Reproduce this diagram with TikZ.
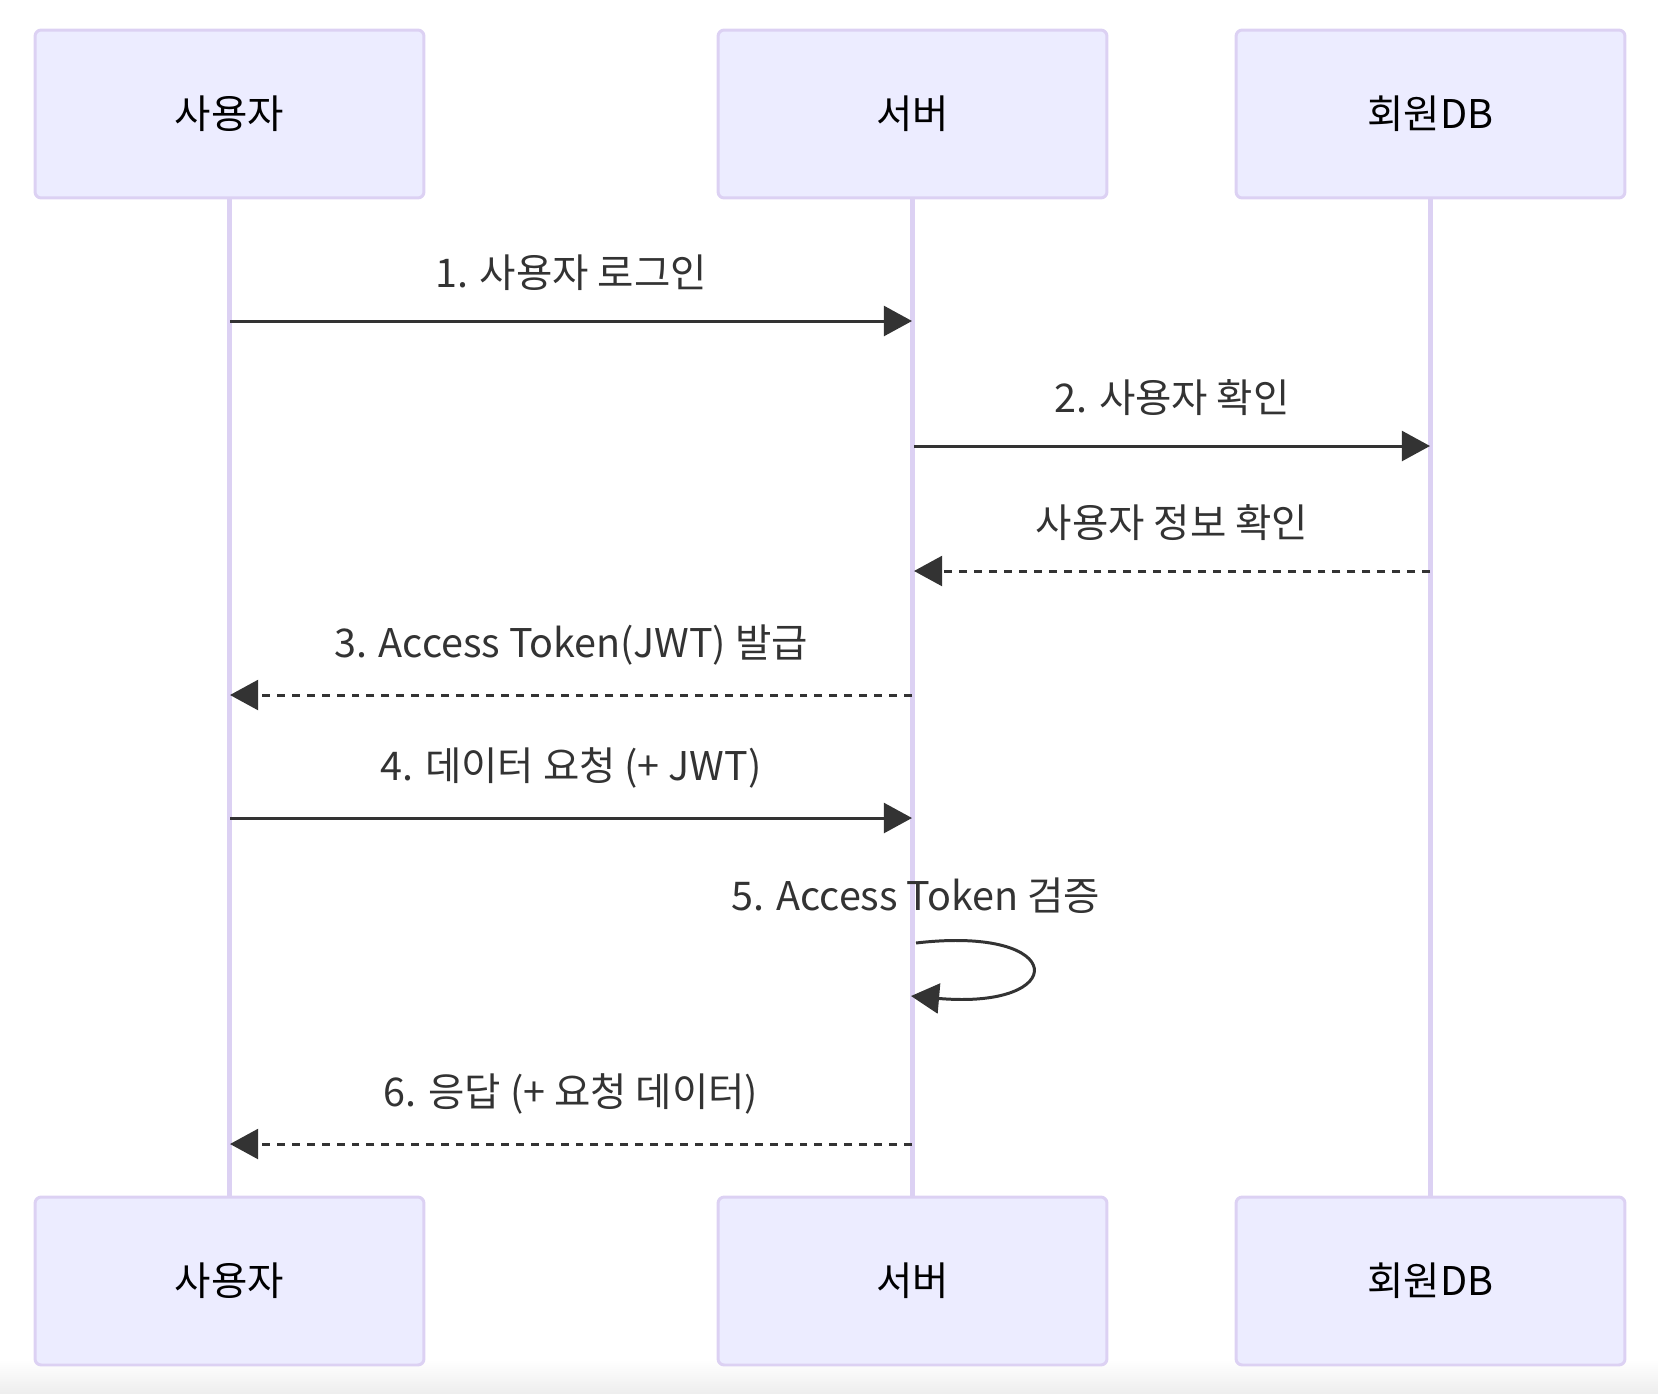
\documentclass[tikz,border=0pt]{standalone}
\usepackage{fontspec}
\setmainfont{Noto Sans CJK KR}
\usetikzlibrary{arrows.meta}
\definecolor{actorfill}{HTML}{ECECFF}
\definecolor{actorline}{HTML}{DCD1F3}
\definecolor{msgcol}{HTML}{333333}
\tikzset{
  actor/.style={draw=actorline, fill=actorfill, line width=1.7pt, rounded corners=3.5pt,
    minimum width=7.78cm, minimum height=3.36cm, text=black, font=\fontsize{22.5}{27}\selectfont},
  lifeline/.style={draw=actorline, line width=2.4pt},
  msg/.style={draw=msgcol, line width=1.7pt, -{Triangle[length=16pt,width=17pt]}},
  reply/.style={msg, dash pattern=on 4.5pt off 4pt},
  msglabel/.style={text=msgcol, font=\fontsize{22.5}{27}\selectfont}
}
\begin{document}
\begin{tikzpicture}[x=0.02cm, y=-0.02cm]
\useasboundingbox (0,0) rectangle (1658,1394);
\shade[top color=white, bottom color=black!7] (0,1360) rectangle (1658,1394);
% actors
\node[actor] (u0) at (229.5,114) {사용자};
\node[actor] (s0) at (912.5,114) {서버};
\node[actor] (d0) at (1430.5,114) {회원DB};
\node[actor] (u9) at (229.5,1281) {사용자};
\node[actor] (s9) at (912.5,1281) {서버};
\node[actor] (d9) at (1430.5,1281) {회원DB};
\draw[lifeline] (u0.south) -- (u9.north);
\draw[lifeline] (s0.south) -- (s9.north);
\draw[lifeline] (d0.south) -- (d9.north);
% messages
\coordinate (u1) at (230,321);
\coordinate (s1) at (912,321);
\draw[msg] (u1) -- node[msglabel, above=13pt] {1. 사용자 로그인} (s1);
\coordinate (s2) at (914,446);
\coordinate (d2) at (1430,446);
\draw[msg] (s2) -- node[msglabel, above=13pt] {2. 사용자 확인} (d2);
\coordinate (d3) at (1430,571);
\coordinate (s3) at (914,571);
\draw[reply] (d3) -- node[msglabel, above=13pt] {사용자 정보 확인} (s3);
\coordinate (s4) at (912,695);
\coordinate (u4) at (230,695);
\draw[reply] (s4) -- node[msglabel, above=13pt] {3. Access Token(JWT) 발급} (u4);
\coordinate (u5) at (230,818);
\coordinate (s5) at (912,818);
\draw[msg] (u5) -- node[msglabel, above=13pt] {4. 데이터 요청 (+ JWT)} (s5);
\coordinate (s6) at (916,943);
\coordinate (s7) at (911,996);
\node[msglabel, above=13pt] (l5) at (s6) {5. Access Token 검증};
\draw[msg] (s6) .. controls (1070,925) and (1070,1010) .. (s7);
\coordinate (s8) at (912,1144);
\coordinate (u8) at (230,1144);
\draw[reply] (s8) -- node[msglabel, above=13pt] {6. 응답 (+ 요청 데이터)} (u8);
\end{tikzpicture}
\end{document}
